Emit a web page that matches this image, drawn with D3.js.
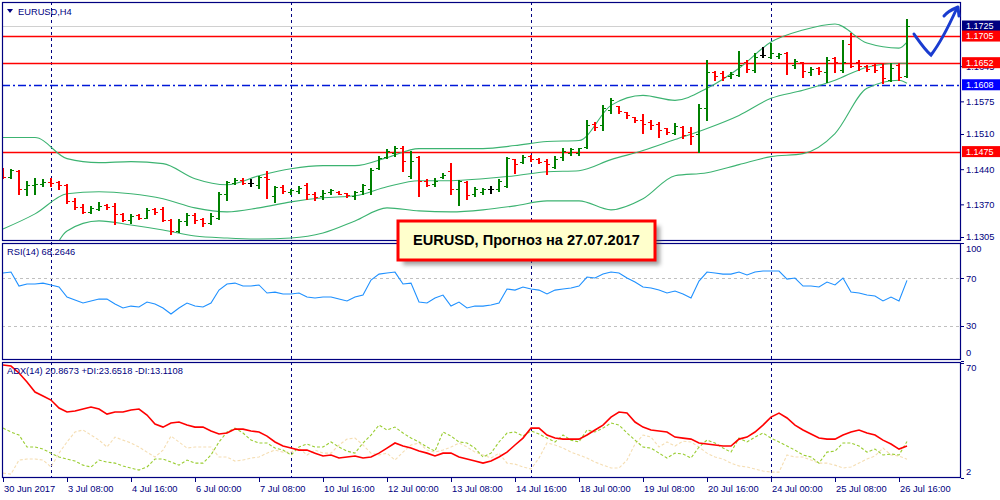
<!DOCTYPE html>
<html><head><meta charset="utf-8">
<script src="https://cdn.jsdelivr.net/npm/d3@7"></script>
<style>body{margin:0;background:#fff}svg{display:block}text{font-family:Tahoma,"Liberation Sans",Arial,sans-serif}</style>
</head><body><svg id="c" width="1000" height="500"></svg>
<script>
// ---------- DATA ----------
const timeLabels = ["30 Jun 2017","3 Jul 08:00","4 Jul 16:00","6 Jul 00:00","7 Jul 08:00","10 Jul 16:00","12 Jul 00:00","13 Jul 08:00","14 Jul 16:00","18 Jul 00:00","19 Jul 08:00","20 Jul 16:00","24 Jul 00:00","25 Jul 08:00","26 Jul 16:00"];
const labelEvery = 8;            // one label every 8 H4 bars
const weekStartBars = [6, 36, 66, 96];

const open = [1.1441,1.1425,1.1437,1.1401,1.1409,1.1411,1.1415,1.1415,1.1409,1.1377,
1.1365,1.1355,1.1361,1.1369,1.1367,1.1351,1.1339,1.1349,1.1343,1.1361,
1.1361,1.1339,1.1317,1.1337,1.1349,1.1341,1.1333,1.1343,1.1391,1.1413,
1.1419,1.1413,1.1409,1.1425,1.1387,1.1405,1.1395,1.1397,1.1409,1.1391,
1.1387,1.1395,1.1395,1.1393,1.1387,1.1397,1.1401,1.1443,1.1465,1.1473,
1.1483,1.1427,1.1465,1.1417,1.1411,1.1425,1.1437,1.1401,1.1415,1.1391,
1.1395,1.1401,1.1401,1.1407,1.1461,1.1455,1.1467,1.1461,1.1457,1.1445,
1.1465,1.1473,1.1473,1.1485,1.1529,1.1527,1.1557,1.1565,1.1553,1.1543,
1.1537,1.1533,1.1529,1.1521,1.1513,1.1523,1.1515,1.1511,1.1561,1.1633,
1.1631,1.1625,1.1627,1.1653,1.1637,1.1667,1.1663,1.1665,1.1671,1.1647,
1.1653,1.1633,1.1641,1.1633,1.1661,1.1637,1.1689,1.1653,1.1645,1.1647,
1.1643,1.1617,1.1647,1.1625];
const high = [1.1443,1.1441,1.1439,1.1417,1.1423,1.1421,1.1423,1.1417,1.1411,1.1383,
1.1371,1.1367,1.1375,1.1371,1.1373,1.1353,1.1351,1.1351,1.1363,1.1363,
1.1365,1.1341,1.1341,1.1353,1.1353,1.1343,1.1353,1.1395,1.1417,1.1423,
1.1423,1.1421,1.1427,1.1437,1.1407,1.1409,1.1401,1.1407,1.1413,1.1395,
1.1399,1.1401,1.1397,1.1393,1.1397,1.1411,1.1443,1.1467,1.1481,1.1487,
1.1487,1.1477,1.1467,1.1421,1.1423,1.1433,1.1453,1.1419,1.1417,1.1405,
1.1403,1.1407,1.1421,1.1465,1.1461,1.1469,1.1469,1.1463,1.1461,1.1467,
1.1483,1.1483,1.1483,1.1537,1.1533,1.1567,1.1581,1.1565,1.1553,1.1543,
1.1549,1.1537,1.1533,1.1521,1.1531,1.1525,1.1523,1.1569,1.1657,1.1635,
1.1635,1.1633,1.1675,1.1657,1.1671,1.1683,1.1691,1.1671,1.1673,1.1659,
1.1653,1.1643,1.1643,1.1663,1.1663,1.1697,1.1711,1.1657,1.1647,1.1651,
1.1651,1.1651,1.1651,1.1739];
const low = [1.1423,1.1423,1.1391,1.1389,1.1391,1.1407,1.1407,1.1401,1.1373,1.1361,
1.1353,1.1353,1.1359,1.1361,1.1331,1.1337,1.1333,1.1341,1.1343,1.1351,
1.1337,1.1311,1.1315,1.1329,1.1333,1.1327,1.1331,1.1341,1.1379,1.1411,
1.1411,1.1407,1.1403,1.1383,1.1375,1.1393,1.1391,1.1393,1.1381,1.1379,
1.1381,1.1391,1.1391,1.1385,1.1381,1.1391,1.1391,1.1441,1.1463,1.1467,
1.1437,1.1423,1.1387,1.1407,1.1407,1.1423,1.1391,1.1369,1.1381,1.1387,
1.1391,1.1393,1.1397,1.1405,1.1433,1.1453,1.1457,1.1453,1.1431,1.1443,
1.1459,1.1469,1.1469,1.1483,1.1517,1.1517,1.1551,1.1551,1.1541,1.1533,
1.1513,1.1519,1.1505,1.1511,1.1511,1.1503,1.1491,1.1475,1.1537,1.1617,
1.1617,1.1621,1.1625,1.1633,1.1633,1.1663,1.1661,1.1661,1.1629,1.1641,
1.1623,1.1627,1.1629,1.1613,1.1633,1.1633,1.1643,1.1637,1.1635,1.1633,
1.1611,1.1615,1.1617,1.1623];
const close = [1.1425,1.1439,1.1401,1.1409,1.1411,1.1415,1.1413,1.1409,1.1377,1.1365,
1.1355,1.1363,1.1367,1.1365,1.1351,1.1339,1.1347,1.1343,1.1359,1.1355,
1.1339,1.1317,1.1337,1.1349,1.1339,1.1333,1.1347,1.1391,1.1415,1.1419,
1.1413,1.1413,1.1425,1.1421,1.1405,1.1397,1.1399,1.1403,1.1391,1.1385,
1.1393,1.1399,1.1391,1.1389,1.1395,1.1409,1.1439,1.1463,1.1477,1.1483,
1.1457,1.1457,1.1417,1.1409,1.1417,1.1429,1.1401,1.1417,1.1389,1.1401,
1.1401,1.1401,1.1417,1.1463,1.1451,1.1465,1.1461,1.1455,1.1451,1.1461,
1.1477,1.1481,1.1483,1.1527,1.1523,1.1561,1.1577,1.1555,1.1547,1.1537,
1.1529,1.1527,1.1517,1.1515,1.1525,1.1509,1.1507,1.1561,1.1633,1.1625,
1.1623,1.1629,1.1647,1.1639,1.1663,1.1667,1.1671,1.1669,1.1651,1.1655,
1.1635,1.1639,1.1635,1.1657,1.1653,1.1653,1.1645,1.1645,1.1639,1.1637,
1.1621,1.1641,1.1623,1.1725];

// Bollinger bands, read every 4 bars
const bbBars = [0,4,8,12,16,20,24,28,32,36,40,44,48,52,56,60,64,68,72,76,80,84,88,92,96,100,104,108,112,113];
const bbUpper = [1.1503,1.1503,1.1461,1.1453,1.1455,1.1451,1.1421,1.1409,1.1427,1.1441,1.1447,1.1447,1.1463,1.1481,1.1481,1.1481,1.1487,1.1495,1.1497,1.1567,1.1587,1.1577,1.1601,1.1641,1.1693,1.1717,1.1729,1.1691,1.1681,1.1693];
const bbMiddle = [1.1321,1.1351,1.1391,1.1395,1.1391,1.1381,1.1363,1.1355,1.1363,1.1375,1.1383,1.1387,1.1405,1.1417,1.1417,1.1421,1.1427,1.1435,1.1437,1.1459,1.1477,1.1499,1.1521,1.1547,1.1581,1.1597,1.1617,1.1643,1.1651,1.1651];
const bbLower = [1.1139,1.1199,1.1317,1.1337,1.1329,1.1319,1.1307,1.1303,1.1301,1.1303,1.1313,1.1337,1.1363,1.1357,1.1355,1.1359,1.1367,1.1377,1.1377,1.1359,1.1381,1.1427,1.1433,1.1449,1.1465,1.1471,1.1511,1.1601,1.1617,1.1611];

const redLevels = [1.1705, 1.1652, 1.1475];
const blueLevel = 1.1608;
const lastPrice = 1.1725;
const priceTicks = [1.1305,1.1370,1.1440,1.1510,1.1575,1.1645];

const rsi = [74.5,75.3,63.5,65.2,65.2,66.0,64.4,62.7,54.2,51.7,
49.2,50.9,52.5,52.5,48.3,45.0,46.6,45.8,50.0,48.3,
45.0,39.9,45.0,49.2,46.6,45.8,49.2,60.1,65.2,66.0,
63.5,63.5,64.4,57.6,58.4,56.8,56.8,57.6,54.2,53.4,
54.2,54.2,52.5,50.9,54.2,55.9,68.6,73.6,74.5,75.3,
65.2,66.0,50.0,49.2,53.4,55.9,46.6,50.0,45.0,46.6,
46.6,47.5,49.2,61.0,60.1,62.7,61.0,60.1,56.8,60.1,
61.0,61.8,63.5,71.1,70.3,73.6,75.3,74.5,70.3,66.9,
62.7,61.8,60.1,57.6,59.3,56.8,53.4,67.7,75.3,74.5,
73.6,73.6,75.3,72.8,75.3,76.2,76.2,76.2,69.4,70.3,
63.5,63.5,62.7,66.9,64.4,70.3,58.4,57.6,55.9,55.1,
50.9,54.2,50.9,68.3];
const rsiLevels = [70, 30];
const rsiTicks = [100, 70, 30, 0];

const adx = [68.8,68.2,64.1,58.8,52.8,50.5,48.1,43.4,41.0,41.6,
42.8,44.0,42.8,39.8,41.0,41.0,42.2,42.8,39.2,33.9,
32.1,34.5,35.1,33.3,32.1,32.1,29.8,28.0,28.6,30.9,
30.9,29.8,29.2,26.8,23.3,20.9,19.7,18.5,18.5,16.7,
15.0,15.6,13.8,14.4,15.0,13.8,14.4,16.7,19.7,22.7,
20.9,19.7,17.9,16.7,15.0,16.7,16.7,14.4,13.2,12.0,
10.8,12.0,14.4,17.3,21.5,25.6,31.5,31.5,27.4,25.6,
25.0,25.0,25.0,27.4,30.4,33.3,38.0,41.0,40.4,35.1,
32.1,30.4,29.8,29.2,26.2,25.6,25.0,22.7,22.1,21.5,
20.9,20.9,25.0,26.2,29.2,33.3,38.0,40.4,37.5,33.3,
30.4,28.0,25.6,25.0,25.0,27.4,29.2,30.4,28.6,27.4,
24.4,22.1,19.1,20.9];
const plusDI = [31.5,29.2,27.4,20.3,20.3,19.1,16.7,14.4,13.2,12.0,
9.6,8.5,12.6,11.4,10.8,9.1,7.9,6.7,8.5,13.2,
13.2,11.4,9.6,12.6,10.8,10.8,15.6,23.3,29.2,31.5,
28.6,24.4,22.7,22.7,19.7,18.5,15.6,20.3,22.1,20.3,
20.3,23.3,20.3,17.9,16.7,22.7,27.4,33.3,30.4,32.1,
28.6,25.6,23.3,20.3,17.9,29.2,26.8,23.3,22.7,19.7,
14.4,16.7,23.3,28.6,29.2,26.8,29.8,28.0,25.6,23.3,
27.4,24.4,23.3,30.4,29.2,31.5,34.5,33.3,28.6,24.4,
20.3,19.7,16.7,13.8,16.7,16.2,13.8,20.3,24.4,22.7,
19.7,17.3,25.6,23.3,26.2,28.6,25.6,23.3,20.9,18.5,
15.6,14.4,10.8,17.3,17.9,22.7,22.7,20.9,17.3,19.1,
15.6,16.2,15.6,23.6];
const minusDI = [4.9,4.3,12.6,13.2,13.2,12.6,8.5,16.7,23.3,29.2,
30.4,27.4,24.4,20.3,26.2,24.4,22.7,20.3,17.3,14.4,
18.5,26.8,23.3,19.7,20.3,20.3,20.3,14.4,14.4,12.0,
12.6,13.8,14.4,16.7,18.5,17.3,17.3,19.7,15.6,18.5,
16.7,16.7,21.5,25.0,25.6,21.5,16.7,15.6,16.7,12.6,
17.3,21.5,22.7,18.5,17.3,18.5,20.3,22.7,20.3,17.3,
15.6,13.8,16.7,10.8,10.2,8.5,7.3,13.8,22.7,21.5,
19.7,17.3,15.6,13.8,11.4,9.6,7.9,7.9,12.6,22.1,
27.4,26.2,20.3,23.3,20.9,23.8,23.3,20.3,16.7,14.4,
13.2,10.8,9.1,8.5,7.3,6.1,5.5,5.5,15.6,14.4,
14.4,12.6,10.8,10.8,9.6,7.9,8.5,10.8,13.2,15.0,
19.7,15.6,15.0,13.1];
const adxTicks = [70, 2];

const titleText = "EURUSD, Прогноз на 27.07.2017";
const symbolText = "EURUSD,H4";
const rsiText = "RSI(14) 68.2646";
const adxText = "ADX(14) 20.8673 +DI:23.6518 -DI:13.1108";

// ---------- LAYOUT ----------
const NAVY = "#000080";
const L = 2, R = 961;
const P = {main:[2,241], rsi:[243,360], adx:[362,478]};
const n = close.length;
const x = d3.scaleLinear().domain([0, n-1]).range([3, 3 + 8*(n-1)]);
const yP = d3.scaleLinear().domain([1.1305, 1.1725]).range([237, 26]);
const yR = d3.scaleLinear().domain([0, 100]).range([361.3, 242.8]);
const yA = d3.scaleLinear().domain([2, 70]).range([478, 363]);

const svg = d3.select("#c");
const defs = svg.append("defs");
Object.entries(P).forEach(([k,[a,b]]) => {
  defs.append("clipPath").attr("id","clip-"+k).append("rect")
    .attr("x", L).attr("y", a).attr("width", R-L).attr("height", b-a);
});
const f = defs.append("filter").attr("id","shadow").attr("x","-10%").attr("y","-20%").attr("width","130%").attr("height","150%");
f.append("feGaussianBlur").attr("stdDeviation", 2);

// vertical week grid through all panels
svg.append("g").selectAll("line").data(weekStartBars).join("line")
  .attr("x1", d => x(d)+0.5).attr("x2", d => x(d)+0.5)
  .attr("y1", P.main[0]).attr("y2", P.adx[1])
  .attr("stroke", NAVY).attr("stroke-width", 1).attr("stroke-dasharray", "3,3");

// ---------- MAIN PANEL ----------
const gM = svg.append("g").attr("clip-path","url(#clip-main)");
gM.append("line").attr("x1",L).attr("x2",R).attr("y1",Math.round(yP(lastPrice))+0.5).attr("y2",Math.round(yP(lastPrice))+0.5)
  .attr("stroke","#d0d0d0");
gM.selectAll(".rl").data(redLevels).join("line")
  .attr("x1",L).attr("x2",R).attr("y1",d=>Math.round(yP(d))+0.5).attr("y2",d=>Math.round(yP(d))+0.5)
  .attr("stroke","#ff0000").attr("stroke-width",1.3);
gM.append("line").attr("x1",L).attr("x2",R).attr("y1",Math.round(yP(blueLevel))+0.5).attr("y2",Math.round(yP(blueLevel))+0.5)
  .attr("stroke","#0018d8").attr("stroke-width",1.3).attr("stroke-dasharray","8,3,2,3");

const bandLine = arr => d3.line().x((d,i)=>x(bbBars[i])).y(d=>yP(d)).curve(d3.curveMonotoneX)(arr);
[bbUpper, bbMiddle, bbLower].forEach(arr => {
  gM.append("path").attr("d", bandLine(arr)).attr("fill","none").attr("stroke","#3CB371").attr("stroke-width",1.1);
});

const idx = d3.range(n);
const col = i => close[i] > open[i] ? "#008000" : (close[i] < open[i] ? "#ff0000" : "#000000");
const gB = gM.append("g").attr("shape-rendering","crispEdges");
gB.selectAll(".hl").data(idx).join("line")
  .attr("x1", i=>x(i)).attr("x2", i=>x(i))
  .attr("y1", i=>Math.round(yP(high[i]))).attr("y2", i=>Math.round(yP(low[i]))+1)
  .attr("stroke", col).attr("stroke-width", 2);
gB.selectAll(".op").data(idx).join("line")
  .attr("x1", i=>x(i)-3).attr("x2", i=>x(i))
  .attr("y1", i=>Math.round(yP(open[i]))+0.5).attr("y2", i=>Math.round(yP(open[i]))+0.5)
  .attr("stroke", col).attr("stroke-width", 1);
gB.selectAll(".cl").data(idx).join("line")
  .attr("x1", i=>x(i)).attr("x2", i=>x(i)+3)
  .attr("y1", i=>Math.round(yP(close[i]))+0.5).attr("y2", i=>Math.round(yP(close[i]))+0.5)
  .attr("stroke", col).attr("stroke-width", 1);

// ---------- RSI PANEL ----------
const gR = svg.append("g").attr("clip-path","url(#clip-rsi)");
gR.selectAll("line").data(rsiLevels).join("line")
  .attr("x1",L).attr("x2",R).attr("y1",d=>Math.round(yR(d))+0.5).attr("y2",d=>Math.round(yR(d))+0.5)
  .attr("stroke","#c0c0c0").attr("stroke-dasharray","3,3");
gR.append("path").datum(rsi).attr("fill","none").attr("stroke","#1E90FF").attr("stroke-width",1.1)
  .attr("d", d3.line().x((d,i)=>x(i)).y(d=>yR(d)));

// ---------- ADX PANEL ----------
const gA = svg.append("g").attr("clip-path","url(#clip-adx)");
gA.append("path").datum(minusDI).attr("fill","none").attr("stroke","#F5DEB3").attr("stroke-width",1.1).attr("stroke-dasharray","3,2")
  .attr("d", d3.line().x((d,i)=>x(i)).y(d=>yA(d)));
gA.append("path").datum(plusDI).attr("fill","none").attr("stroke","#9ACD32").attr("stroke-width",1.1).attr("stroke-dasharray","3,2")
  .attr("d", d3.line().x((d,i)=>x(i)).y(d=>yA(d)));
gA.append("path").datum(adx).attr("fill","none").attr("stroke","#ff0000").attr("stroke-width",1.6)
  .attr("d", d3.line().x((d,i)=>x(i)).y(d=>yA(d)));

// ---------- FRAMES ----------
Object.values(P).forEach(([a,b]) => {
  svg.append("rect").attr("x",L+0.5).attr("y",a+0.5).attr("width",R-L-1).attr("height",b-a-1)
    .attr("fill","none").attr("stroke",NAVY).attr("stroke-width",1.2);
});

// ---------- AXES ----------
const tickStyle = g => { g.select(".domain").remove(); g.selectAll("line").attr("stroke",NAVY);
  g.selectAll("text").attr("fill",NAVY).style("font-size","9.3px"); };
svg.append("g").attr("transform",`translate(${R},0)`)
  .call(d3.axisRight(yP).tickValues(priceTicks).tickFormat(d3.format(".4f")).tickSize(3).tickPadding(2))
  .call(tickStyle);

// price level tags
const tags = [{v:lastPrice,c:NAVY}, ...redLevels.map(v=>({v,c:"#ff0000"})), {v:blueLevel,c:"#0000ff"}];
const gT = svg.append("g");
tags.forEach(t => {
  const yy = yP(t.v);
  gT.append("rect").attr("x",R+1).attr("y",yy-5.5).attr("width",39).attr("height",11).attr("fill",t.c);
  gT.append("text").attr("x",R+5).attr("y",yy).attr("dy","0.35em").attr("fill","#fff")
    .style("font-size","9px").text(d3.format(".4f")(t.v));
});

// RSI axis
const clampR = v => Math.max(P.rsi[0]+6, Math.min(P.rsi[1]-7, yR(v)));
const gRa = svg.append("g");
gRa.selectAll("line").data(rsiTicks).join("line").attr("x1",R).attr("x2",R+3)
  .attr("y1",d=>Math.round(yR(d))+0.5).attr("y2",d=>Math.round(yR(d))+0.5).attr("stroke",NAVY);
gRa.selectAll("text").data(rsiTicks).join("text").attr("x",R+5).attr("y",clampR).attr("dy","0.35em")
  .attr("fill",NAVY).style("font-size","9.3px").text(d=>d);

// ADX axis
const clampA = v => Math.max(P.adx[0]+6, Math.min(P.adx[1]-6, yA(v)));
const gAa = svg.append("g");
gAa.selectAll("line").data(adxTicks).join("line").attr("x1",R).attr("x2",R+3)
  .attr("y1",d=>Math.round(yA(d))+0.5).attr("y2",d=>Math.round(yA(d))+0.5).attr("stroke",NAVY);
gAa.selectAll("text").data(adxTicks).join("text").attr("x",R+5).attr("y",clampA).attr("dy","0.35em")
  .attr("fill",NAVY).style("font-size","9.3px").text(d=>d);

// time axis
const tIdx = timeLabels.map((d,i)=>i*labelEvery);
const gX = svg.append("g");
gX.selectAll("line").data(tIdx).join("line").attr("x1",d=>x(d)+0.5).attr("x2",d=>x(d)+0.5)
  .attr("y1",P.adx[1]).attr("y2",P.adx[1]+4).attr("stroke",NAVY);
gX.selectAll("text").data(tIdx).join("text").attr("x",d=>x(d)+1).attr("y",492)
  .attr("fill",NAVY).style("font-size","9.3px").text((d,i)=>timeLabels[i]);

// panel captions
svg.append("path").attr("d","M7,9 L13,9 L10,13 Z").attr("fill",NAVY);
svg.append("text").attr("x",18).attr("y",15).attr("fill",NAVY).style("font-size","9.3px").text(symbolText);
svg.append("text").attr("x",7).attr("y",255).attr("fill",NAVY).style("font-size","9.3px").text(rsiText);
svg.append("text").attr("x",7).attr("y",374).attr("fill",NAVY).style("font-size","9.3px").text(adxText);

// title box
const bx = 398, by = 221, bw = 257, bh = 39;
svg.append("rect").attr("x",bx+5).attr("y",by+5).attr("width",bw).attr("height",bh)
  .attr("fill","#555").attr("opacity",0.55).attr("filter","url(#shadow)");
svg.append("rect").attr("x",bx).attr("y",by).attr("width",bw).attr("height",bh)
  .attr("fill","#ffffcc").attr("stroke","#ff0000").attr("stroke-width",3);
svg.append("text").attr("x",bx+bw/2).attr("y",by+24).attr("text-anchor","middle")
  .style("font-family","'Liberation Sans',Arial,sans-serif").style("font-weight","bold").style("font-size","14.6px")
  .attr("fill","#000").text(titleText);

// hand-drawn forecast arrow
svg.append("path").attr("d","M914,34 C919,41 925,50 931,55 C938,46 947,30 957,8")
  .attr("fill","none").attr("stroke","#1a3cd0").attr("stroke-width",3).attr("stroke-linecap","round");
svg.append("path").attr("d","M944,16 C948,11 953,9 958,7 L959,16")
  .attr("fill","none").attr("stroke","#1a3cd0").attr("stroke-width",3).attr("stroke-linecap","round").attr("stroke-linejoin","round");
</script></body></html>
